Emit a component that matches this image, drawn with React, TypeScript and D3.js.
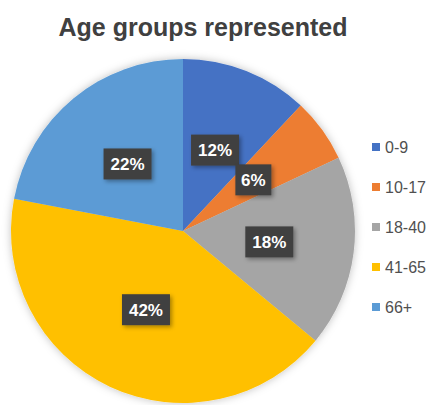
import React from "react";
import * as d3 from "d3";

const categories = ["0-9", "10-17", "18-40", "41-65", "66+"];
const values = [12, 6, 18, 42, 22];
const colors = ["#4472C4", "#ED7D31", "#A5A5A5", "#FFC000", "#5B9BD5"];
const title = "Age groups represented";

const W = 431;
const H = 405;
const cx = 183;
const cy = 231;
const R = 172;
const labelR = 87;

export default function App() {
  const pie = d3.pie<number>().sort(null).value((d) => d)(values);
  const arc = d3.arc<d3.PieArcDatum<number>>().innerRadius(0).outerRadius(R);
  const labelArc = d3
    .arc<d3.PieArcDatum<number>>()
    .innerRadius(labelR)
    .outerRadius(labelR);
  const legendY = d3.scalePoint<string>().domain(categories).range([147, 307]);

  return (
    <div style={{ position: "absolute", left: 0, top: 0 }}>
      <svg width={W} height={H} style={{ display: "block" }}>
        <defs>
          <filter id="pieShadow" x="-20%" y="-20%" width="140%" height="140%">
            <feDropShadow dx="0" dy="0" stdDeviation="4" floodColor="#000" floodOpacity="0.25" />
          </filter>
          <filter id="lblShadow" x="-30%" y="-30%" width="160%" height="160%">
            <feDropShadow dx="2" dy="2" stdDeviation="2" floodColor="#000" floodOpacity="0.35" />
          </filter>
        </defs>
        <rect width={W} height={H} fill="#ffffff" />
        <text
          x={203}
          y={36}
          textAnchor="middle"
          fontFamily="'Liberation Sans', Arial, sans-serif"
          fontWeight="bold"
          fontSize={25}
          fill="#404040"
        >
          {title}
        </text>
        <g transform={`translate(${cx},${cy})`}>
          <g filter="url(#pieShadow)">
            {pie.map((d, i) => (
              <path key={i} d={arc(d) || ""} fill={colors[i]} />
            ))}
          </g>
          {pie.map((d, i) => {
            const [lx, ly] = labelArc.centroid(d);
            const txt = `${values[i]}%`;
            const bw = txt.length === 2 ? 36 : 48;
            const bh = 31;
            return (
              <g key={"l" + i} transform={`translate(${lx},${ly})`}>
                <rect
                  x={-bw / 2}
                  y={-bh / 2}
                  width={bw}
                  height={bh}
                  fill="#404040"
                  filter="url(#lblShadow)"
                />
                <text
                  textAnchor="middle"
                  dy="0.36em"
                  fontFamily="'Liberation Sans', Arial, sans-serif"
                  fontWeight="bold"
                  fontSize={17}
                  fill="#ffffff"
                >
                  {txt}
                </text>
              </g>
            );
          })}
        </g>
        {categories.map((c, i) => {
          const y = legendY(c) as number;
          return (
            <g key={"lg" + i}>
              <rect x={372} y={y - 4} width={8} height={8} fill={colors[i]} />
              <text
                x={385}
                y={y}
                dy="0.36em"
                fontFamily="'Liberation Sans', Arial, sans-serif"
                fontSize={16}
                fill="#505050"
              >
                {c}
              </text>
            </g>
          );
        })}
      </svg>
    </div>
  );
}
